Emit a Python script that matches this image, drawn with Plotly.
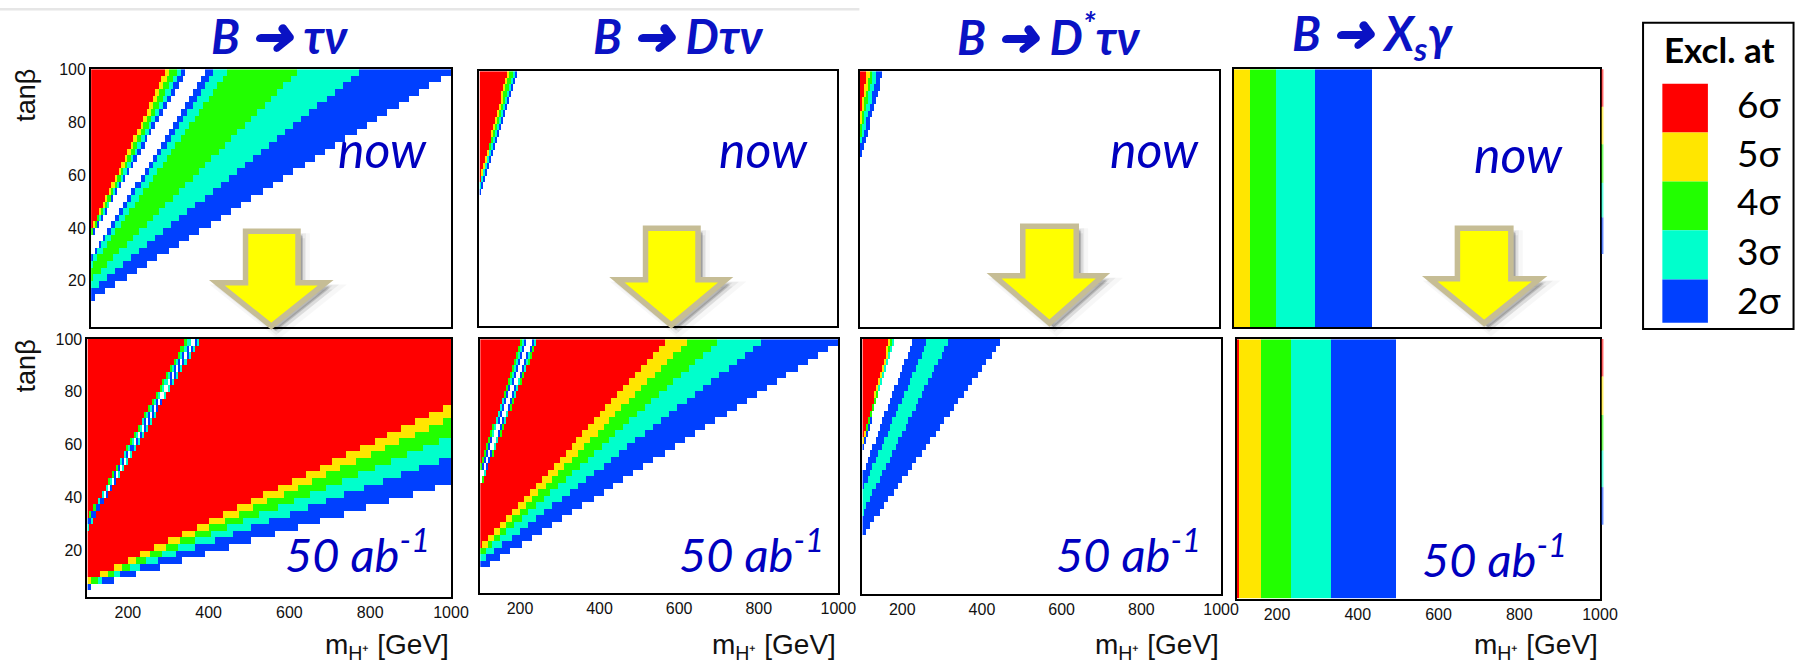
import plotly.graph_objects as go

W, H = 1816, 666

# ---------------- data ----------------
MH_MIN, MH_MAX, MH_STEP = 100, 1000, 5
TB_MIN, TB_MAX, TB_STEP = 2.5, 100, 2.5

sigma_levels = [0, 2, 3, 4, 5, 6]
sigma_colors = ['#ffffff', '#0040ff', '#00ffcc', '#22ff00', '#ffe600', '#ff0000']
legend_levels = [6, 5, 4, 3, 2]
legend_labels = ['6σ', '5σ', '4σ', '3σ', '2σ']
ARROW = '<span style="font-size:51px">➜</span>'
panel_titles = [f'B {ARROW} τν', f'B {ARROW} Dτν', f'B {ARROW} D<sup>*</sup>τν', f'B {ARROW} X<sub>s</sub>γ']
row_labels = ['now', '50 ab<sup>-1</sup>']
x_tick_vals = [200, 400, 600, 800, 1000]
y_tick_vals = [20, 40, 60, 80, 100]

# bands of exclusion significance from left (large tanβ/mH) to right; 0 = not excluded
# edges between consecutive bands, each given by two (mH, tanβ) points
btaunu_now_bands = [6, 5, 4, 3, 2, 0, 2, 3, 4, 3, 2, 0]
btaunu_now_edges = [((289, 100), (100, 39.5)), ((301, 100), (100, 38.5)), ((317, 100), (100, 37.5)),
                    ((330, 100), (100, 37.0)), ((342, 100), (100, 36.3)), ((392, 100), (100, 28.9)),
                    ((412, 100), (100, 27.7)), ((445, 100), (100, 25.2)), ((623, 100), (100, 20.2)),
                    ((779, 100), (100, 16.5)), ((1012, 100), (100, 12.8))]

btaunu_50_bands = [6, 4, 3, 2, 0, 2, 3, 6, 5, 4, 3, 2, 0]
btaunu_50_edges = [((346, 100), (100, 32.0)), ((352, 100), (100, 31.3)), ((358, 100), (100, 30.6)),
                   ((362, 100), (100, 30.0)), ((369, 100), (100, 29.3)), ((374, 100), (100, 28.6)),
                   ((379, 100), (100, 28.0)),
                   ((100, 9.0), (1000, 75.4)), ((100, 7.9), (1000, 70.1)), ((100, 7.3), (1000, 63.0)),
                   ((100, 6.8), (1000, 55.5)), ((100, 5.9), (1000, 45.5))]

bdtaunu_now_bands = [6, 5, 4, 3, 2, 0]
bdtaunu_now_edges = [((172, 100), (100, 57.0)), ((178, 100), (100, 56.0)), ((185, 100), (100, 55.0)),
                     ((191, 100), (100, 54.0)), ((197, 100), (100, 52.5))]

bdtaunu_50_bands = [6, 4, 3, 2, 0, 2, 3, 4, 6, 5, 4, 3, 2, 0]
bdtaunu_50_edges = [((204, 100), (100, 51.0)), ((209, 100), (100, 50.0)), ((214, 100), (100, 49.0)),
                    ((220, 100), (100, 48.0)), ((232, 100), (100, 45.0)), ((237, 100), (100, 44.0)),
                    ((241, 100), (100, 43.5)), ((245, 100), (100, 43.0)),
                    ((573, 100), (100, 20.5)), ((627, 100), (100, 18.5)), ((705, 100), (100, 17.0)),
                    ((817, 100), (100, 14.5)), ((1014, 100), (100, 11.3))]

bdstar_now_bands = [6, 5, 4, 3, 2, 0]
bdstar_now_edges = [((117, 100), (100, 82.0)), ((125, 100), (100, 78.0)), ((133, 100), (100, 74.0)),
                    ((144, 100), (100, 70.0)), ((158, 100), (100, 65.0))]

bdstar_50_bands = [6, 5, 4, 3, 2, 0, 2, 3, 2, 0]
bdstar_50_edges = [((169, 100), (100, 60.5)), ((174, 100), (100, 59.5)), ((177, 100), (100, 58.5)),
                   ((180, 100), (100, 58.0)), ((184, 100), (100, 57.3)), ((228, 100), (100, 47.9)),
                   ((266, 100), (100, 41.6)), ((318, 100), (100, 32.8)), ((453, 100), (100, 24.6))]

bsgamma_now_bands = [5, 4, 3, 2, 0]
bsgamma_now_edges = [((142, 100), (142, 2.5)), ((207, 100), (207, 2.5)),
                     ((298, 100), (298, 2.5)), ((442, 100), (442, 2.5))]

bsgamma_50_bands = [6, 5, 4, 3, 2, 0]
bsgamma_50_edges = [((105, 100), (105, 2.5)), ((160, 100), (160, 2.5)), ((235, 100), (235, 2.5)),
                    ((335, 100), (335, 2.5)), ((496, 100), (496, 2.5))]

panels = [
    (btaunu_now_bands, btaunu_now_edges), (bdtaunu_now_bands, bdtaunu_now_edges),
    (bdstar_now_bands, bdstar_now_edges), (bsgamma_now_bands, bsgamma_now_edges),
    (btaunu_50_bands, btaunu_50_edges), (bdtaunu_50_bands, bdtaunu_50_edges),
    (bdstar_50_bands, bdstar_50_edges), (bsgamma_50_bands, bsgamma_50_edges),
]

# ---------------- layout geometry (pixels) ----------------
# (left, right, top, bottom) of each plot area
boxes = [
    (92, 456, 62, 323), (484.3, 845.7, 64, 321.7), (868.3, 1231.7, 64, 322.7), (1246, 1616, 62, 323.3),
    (88.3, 455.5, 335, 596), (485, 846.7, 335.3, 592.3), (871, 1233.3, 335, 593.3), (1249, 1616, 335.3, 597.7),
]


def px(x):
    return x / W


def py(y):
    return 1 - y / H


mh_centers = [MH_MIN + MH_STEP * (i + 0.5) for i in range(int((MH_MAX - MH_MIN) / MH_STEP))]
tb_centers = [TB_MIN + TB_STEP * (j + 0.5) for j in range(int(round((TB_MAX - TB_MIN) / TB_STEP)))]


def band_grid(bands, edges):
    z = []
    for t in tb_centers:
        row = []
        for m in mh_centers:
            k = 0
            for (m1, t1), (m2, t2) in edges:
                mb = m1 + (t - t1) * (m2 - m1) / (t2 - t1)
                if m > mb:
                    k += 1
            row.append(sigma_levels.index(bands[min(k, len(bands) - 1)]))
        z.append(row)
    return z


n = len(sigma_colors)
colorscale = []
for i, c in enumerate(sigma_colors):
    colorscale.append([i / n, c])
    colorscale.append([(i + 1) / n, c])

fig = go.Figure()
layout = dict(width=W, height=H, margin=dict(l=0, r=0, t=0, b=0), paper_bgcolor='white',
              plot_bgcolor='white', showlegend=False)

tick_font = dict(family='Liberation Sans, Arial, sans-serif', size=16, color='#111111')

for i, ((bands, edges), (l, r, t, b)) in enumerate(zip(panels, boxes)):
    k = i + 1
    xa = 'x' if k == 1 else f'x{k}'
    ya = 'y' if k == 1 else f'y{k}'
    fig.add_trace(go.Heatmap(x=mh_centers, y=tb_centers, z=band_grid(bands, edges),
                             colorscale=colorscale, zmin=-0.5, zmax=n - 0.5, showscale=False,
                             hoverinfo='skip', xaxis=xa, yaxis=ya))
    bottom_row = i >= 4
    left_col = i % 4 == 0
    layout['xaxis' if k == 1 else f'xaxis{k}'] = dict(
        domain=[px(l), px(r)], range=[MH_MIN, MH_MAX], anchor=ya, showgrid=False, zeroline=False,
        showline=True, linecolor='black', linewidth=2, mirror=True, ticks='',
        tickvals=x_tick_vals, showticklabels=bottom_row, tickfont=tick_font)
    layout['yaxis' if k == 1 else f'yaxis{k}'] = dict(
        domain=[py(b), py(t)], range=[TB_MIN, TB_MAX], anchor=xa, showgrid=False, zeroline=False,
        showline=True, linecolor='black', linewidth=2, mirror=True, ticks='',
        tickvals=y_tick_vals, showticklabels=left_col, tickfont=tick_font)

fig.update_layout(**layout)

annotations = []
shapes = []

# thin grey line at very top
shapes.append(dict(type='rect', xref='paper', yref='paper', x0=0, x1=px(868), y0=py(2.5), y1=1,
                   fillcolor='#e6e6e6', line=dict(width=0), layer='below'))

title_font = dict(family='Lato, Open Sans, sans-serif', size=47, color='#0a12c4')
title_x = [282, 685, 1060, 1386]
for tx, txt in zip(title_x, panel_titles):
    annotations.append(dict(x=px(tx), y=py(27), xref='paper', yref='paper', xanchor='center',
                            yanchor='middle', showarrow=False, text=f'<b><i>{txt}</i></b>', font=title_font))

label_font = dict(family='Lato, Open Sans, sans-serif', size=50, color='#0000bf')
now_pos = [(386, 143), (771, 143), (1166, 143), (1534, 148)]
for (x, y) in now_pos:
    annotations.append(dict(x=px(x), y=py(y), xref='paper', yref='paper', xanchor='center',
                            yanchor='middle', showarrow=False, text=f'<i>{row_labels[0]}</i>', font=label_font))
lumi_font = dict(family='Lato, Open Sans, sans-serif', size=47, color='#0000bf')
lumi_pos = [(361, 550), (759, 550), (1140, 550), (1509, 555)]
for (x, y) in lumi_pos:
    annotations.append(dict(x=px(x), y=py(y), xref='paper', yref='paper', xanchor='center',
                            yanchor='middle', showarrow=False, text=f'<i>{row_labels[1]}</i>', font=lumi_font))

axis_font = dict(family='Liberation Sans, Arial, sans-serif', size=28, color='#111111')
for k in range(4, 8):
    l, r, t, b = boxes[k]
    annotations.append(dict(x=px(r), y=py(646), xref='paper', yref='paper', xanchor='right',
                            yanchor='middle', showarrow=False, text='m<sub>H⁺</sub> [GeV]', font=axis_font))
for y in (88, 362):
    annotations.append(dict(x=px(26), y=py(y), xref='paper', yref='paper', xanchor='center',
                            yanchor='middle', showarrow=False, text='tanβ', textangle=-90,
                            font=dict(family='Liberation Sans, Arial, sans-serif', size=27, color='#111111')))

# arrows: shaft x0, shaft x1, top, head base y, head x0, head x1, tip x, tip y
arrows = [(245, 304, 223, 275, 213, 335, 274, 328),
          (649, 708, 220, 272, 617, 739, 678, 327),
          (1030, 1090, 218, 268, 998, 1120, 1060, 325),
          (1469, 1529, 220, 271, 1438, 1561, 1499, 325)]


def arrow_path(a, dx=0.0, dy=0.0, inset=3.0):
    sx0, sx1, top, hy, hx0, hx1, tx, ty = a
    pts = [(sx0 + inset, top + inset), (sx1 - inset, top + inset), (sx1 - inset, hy + inset),
           (hx1 - 2 * inset, hy + inset), (tx, ty - 2 * inset), (hx0 + 2 * inset, hy + inset),
           (sx0 + inset, hy + inset)]
    return 'M ' + ' L '.join(f'{px(x + dx):.6f},{py(y + dy):.6f}' for x, y in pts) + ' Z'


for a in arrows:
    for off, alpha, lw in ((7, 0.06, 10), (5, 0.10, 6), (4, 0.14, 2)):
        shapes.append(dict(type='path', xref='paper', yref='paper', path=arrow_path(a, off, off),
                           fillcolor=f'rgba(0,0,0,{alpha})', line=dict(color=f'rgba(0,0,0,{alpha/2})', width=lw),
                           layer='above'))
    shapes.append(dict(type='path', xref='paper', yref='paper', path=arrow_path(a),
                       fillcolor='#ffff00', line=dict(color='#c6bd95', width=5.5), layer='above'))

# faint colour strip at the right edge of the b->s gamma panels
strip_top = [(62, 100), (100, 138), (138, 177), (177, 212), (212, 249)]
strip_bot = [(335, 373), (373, 412), (412, 448), (448, 485), (485, 523)]
for seg in (strip_top, strip_bot):
    for (y0, y1), lev in zip(seg, legend_levels):
        shapes.append(dict(type='line', xref='paper', yref='paper', x0=px(1618.5), x1=px(1618.5),
                           y0=py(y0), y1=py(y1), line=dict(color=sigma_colors[sigma_levels.index(lev)], width=2),
                           opacity=0.6, layer='above'))

# legend box
shapes.append(dict(type='rect', xref='paper', yref='paper', x0=px(1659.5), x1=px(1811.5), y0=py(325),
                   y1=py(15), line=dict(color='black', width=2), fillcolor='white', layer='above'))
annotations.append(dict(x=px(1737), y=py(41), xref='paper', yref='paper', xanchor='center', yanchor='middle',
                        showarrow=False, text='<b>Excl. at</b>',
                        font=dict(family='Lato, Open Sans, sans-serif', size=35, color='black')))
sw_edges = [76.7, 126, 175.7, 225, 274.7, 318.7]
lab_y = [97, 146, 195, 245, 295]
for j, (lev, lab) in enumerate(zip(legend_levels, legend_labels)):
    shapes.append(dict(type='rect', xref='paper', yref='paper', x0=px(1679), x1=px(1725),
                       y0=py(sw_edges[j + 1]), y1=py(sw_edges[j]),
                       fillcolor=sigma_colors[sigma_levels.index(lev)], line=dict(width=0), layer='above'))
    annotations.append(dict(x=px(1777), y=py(lab_y[j]), xref='paper', yref='paper', xanchor='center',
                            yanchor='middle', showarrow=False, text=lab,
                            font=dict(family='Lato, Open Sans, sans-serif', size=37, color='black')))

fig.update_layout(shapes=shapes, annotations=annotations)
fig.write_html('out.html')
